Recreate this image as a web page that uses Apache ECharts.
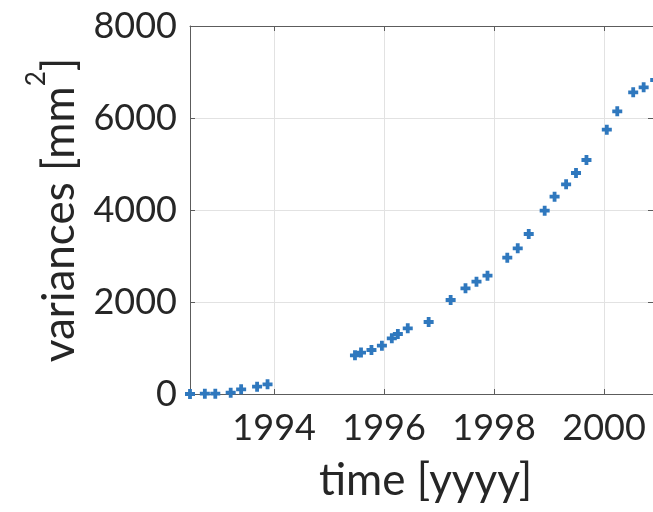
<!DOCTYPE html>
<html>
<head>
<meta charset="utf-8">
<script src="https://cdn.jsdelivr.net/npm/echarts@6/dist/echarts.min.js"></script>
<style>
html, body { margin: 0; padding: 0; background: #ffffff; }
#chart { width: 653px; height: 512px; }
</style>
</head>
<body>
<div id="chart"></div>
<script>
// Observation epochs (decimal years) and the variance estimated at each one
const years = [
  1992.47, 1992.74, 1992.93, 1993.21, 1993.40, 1993.69, 1993.88,
  1995.47, 1995.58, 1995.77, 1995.96, 1996.14, 1996.25, 1996.43, 1996.81,
  1997.21, 1997.48, 1997.68, 1997.88, 1998.24, 1998.43, 1998.63,
  1998.92, 1999.10, 1999.31, 1999.49, 1999.68,
  2000.05, 2000.24, 2000.53, 2000.72, 2000.93
];
const variances = [
  0, 7, 7, 28, 102, 160, 210,
  840, 900, 957, 1050, 1210, 1304, 1428, 1565,
  2043, 2297, 2441, 2572, 2963, 3167, 3478,
  3985, 4289, 4559, 4804, 5087,
  5746, 6146, 6559, 6667, 6826
];
const xTicks = [1994, 1996, 1998, 2000];
const yTicks = [0, 2000, 4000, 6000, 8000];
const xRange = [1992.47, 2000.89];
const yRange = [0, 8000];

const axisColor = '#5c5c5c';
const textColor = '#262626';
const gridColor = '#e2e2e2';
const markColor = '#2f78be';
const font = 'Lato';

const points = years.map((y, i) => [y, variances[i]]);

const chart = echarts.init(document.getElementById('chart'), null, { renderer: 'canvas' });

const baseAxis = {
  axisLine: { show: true, onZero: false, lineStyle: { color: axisColor, width: 1 } },
  axisTick: { show: true, inside: true, length: 5, lineStyle: { color: axisColor, width: 1 } }
};

chart.setOption({
  animation: false,
  backgroundColor: '#ffffff',
  grid: { left: 190, top: 26, right: -2, bottom: 118, containLabel: false },
  xAxis: [
    Object.assign({}, baseAxis, {
      type: 'value',
      position: 'bottom',
      min: xRange[0], max: xRange[1],
      axisTick: Object.assign({}, baseAxis.axisTick, { customValues: xTicks }),
      axisLabel: {
        customValues: xTicks,
        margin: 16,
        color: textColor, fontFamily: font, fontSize: 36,
        formatter: v => String(v)
      },
      splitLine: { show: true, lineStyle: { color: gridColor, width: 1 } },
      name: 'time [yyyy]',
      nameLocation: 'middle',
      nameGap: 65,
      nameTextStyle: { color: textColor, fontFamily: font, fontSize: 44, padding: [0, 0, 0, 8] }
    }),
    Object.assign({}, baseAxis, {
      type: 'value',
      position: 'top',
      min: xRange[0], max: xRange[1],
      axisTick: Object.assign({}, baseAxis.axisTick, { customValues: xTicks }),
      axisLabel: { show: false, customValues: xTicks },
      splitLine: { show: false }
    })
  ],
  yAxis: [
    Object.assign({}, baseAxis, {
      type: 'value',
      position: 'left',
      min: yRange[0], max: yRange[1],
      axisTick: Object.assign({}, baseAxis.axisTick, { customValues: yTicks }),
      axisLabel: {
        customValues: yTicks,
        margin: 13,
        color: textColor, fontFamily: font, fontSize: 36,
        formatter: v => String(v)
      },
      splitLine: { show: true, lineStyle: { color: gridColor, width: 1 } },
      name: '{m|variances [mm}{sup|2}{m|]}',
      nameLocation: 'middle',
      nameGap: 108,
      nameTextStyle: {
        color: textColor, fontFamily: font, fontSize: 44,
        rich: {
          m: { color: textColor, fontFamily: font, fontSize: 44, verticalAlign: 'bottom' },
          sup: { color: textColor, fontFamily: font, fontSize: 26, verticalAlign: 'bottom', padding: [0, 0, 32, 0] }
        }
      }
    }),
    Object.assign({}, baseAxis, {
      type: 'value',
      position: 'right',
      min: yRange[0], max: yRange[1],
      axisTick: Object.assign({}, baseAxis.axisTick, { customValues: yTicks }),
      axisLabel: { show: false, customValues: yTicks },
      splitLine: { show: false }
    })
  ],
  series: [{
    type: 'scatter',
    data: points,
    clip: false,
    symbol: 'path://M3.1,0H6.9V3.1H10V6.9H6.9V10H3.1V6.9H0V3.1H3.1Z',
    symbolSize: 10,
    itemStyle: { color: markColor, opacity: 1 }
  }]
});
</script>
</body>
</html>
